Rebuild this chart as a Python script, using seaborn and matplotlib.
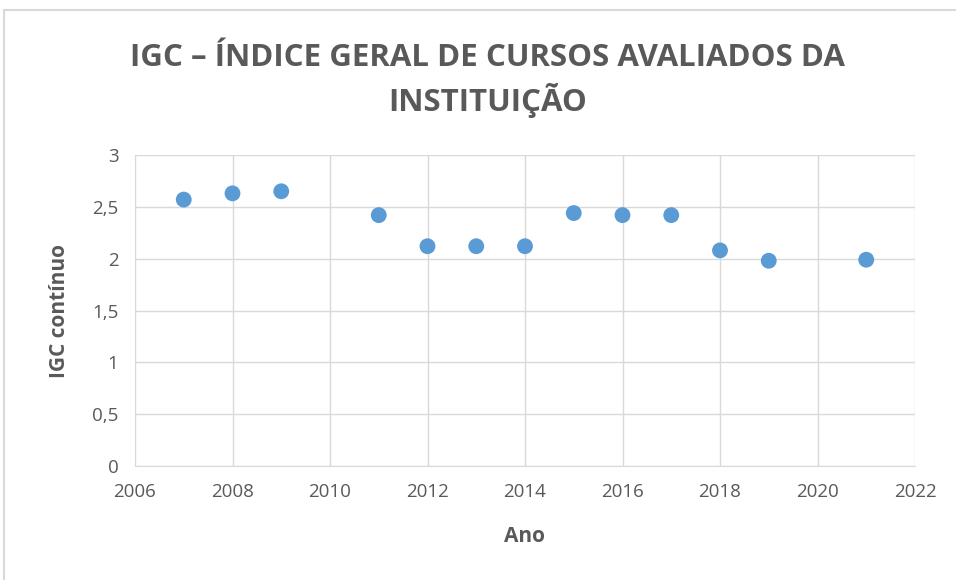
import matplotlib
matplotlib.use("Agg")
import matplotlib.pyplot as plt
import seaborn as sns
import pandas as pd
from matplotlib.ticker import FuncFormatter, MultipleLocator
from matplotlib.patches import Rectangle

anos = [2007, 2008, 2009, 2011, 2012, 2013, 2014, 2015, 2016, 2017, 2018, 2019, 2021]
igc = [2.57, 2.63, 2.65, 2.42, 2.12, 2.12, 2.12, 2.44, 2.42, 2.42, 2.08, 1.98, 1.99]

df = pd.DataFrame({"Ano": anos, "IGC contínuo": igc})

sns.set_style("white")
plt.rcParams["font.family"] = ["Open Sans", "DejaVu Sans"]

fig = plt.figure(figsize=(9.56, 5.8), dpi=100)
ax = fig.add_axes([135/956, 1-466/580, (915-135)/956, (466-155)/580])

sns.scatterplot(data=df, x="Ano", y="IGC contínuo", ax=ax, s=130,
                color="#5B9BD5", edgecolor="none", zorder=3)

grey = "#595959"
ax.set_xlim(2006, 2022)
ax.set_ylim(0, 3)
ax.xaxis.set_major_locator(MultipleLocator(2))
ax.yaxis.set_major_locator(MultipleLocator(0.5))
ax.yaxis.set_major_formatter(FuncFormatter(lambda v, p: ("%g" % v).replace(".", ",")))
ax.grid(True, color="#D9D9D9", linewidth=1)
for s in ["top", "right", "left"]:
    ax.spines[s].set_visible(False)
ax.spines["bottom"].set_color("#D9D9D9")
ax.tick_params(axis="both", length=0, labelsize=13.5, colors=grey)
ax.tick_params(axis="x", pad=12)
ax.tick_params(axis="y", pad=12)
ax.set_xlabel("Ano", fontsize=15, fontweight="bold", color=grey, labelpad=18)
ax.set_ylabel("IGC contínuo", fontsize=15, fontweight="bold", color=grey, labelpad=16)

fig.text(0.51, 1-58/580, "IGC – ÍNDICE GERAL DE CURSOS AVALIADOS DA", ha="center",
         va="center", fontsize=22.5, fontweight="bold", color=grey)
fig.text(0.51, 1-101/580, "INSTITUIÇÃO", ha="center", va="center",
         fontsize=22.5, fontweight="bold", color=grey)

fig.patches.append(Rectangle((4/956, -0.1), 1.1, 1 - 10/580 + 0.1, transform=fig.transFigure,
                             fill=False, edgecolor="#D9D9D9", linewidth=1.5))

fig.savefig("out.png", dpi=100)
